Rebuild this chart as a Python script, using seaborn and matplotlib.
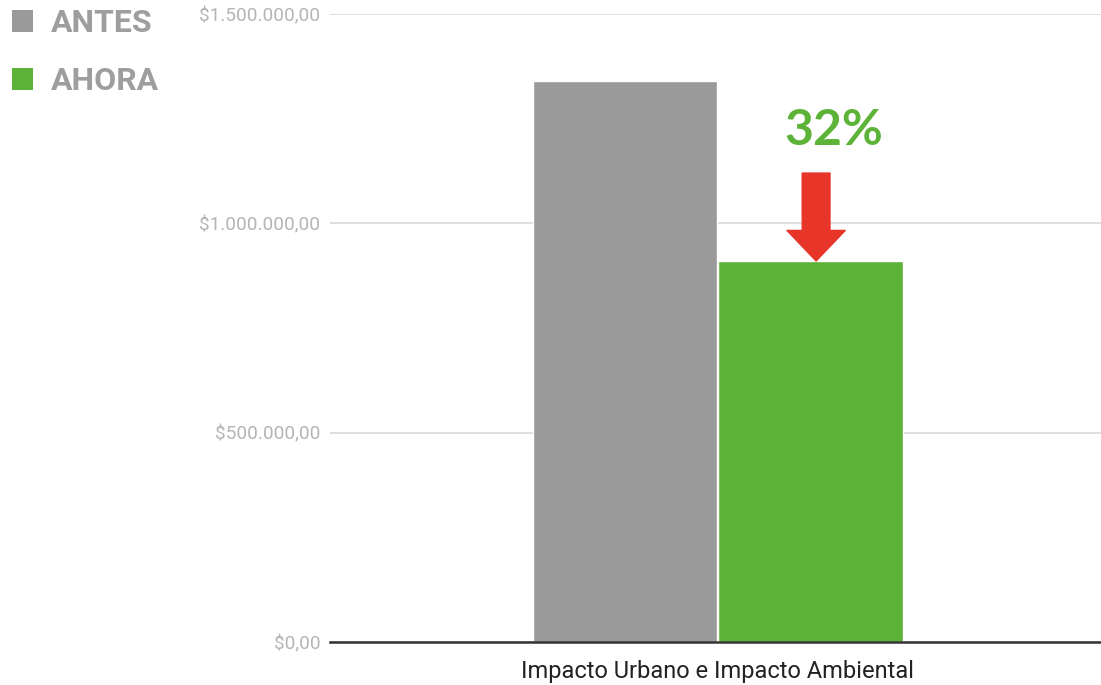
import matplotlib
matplotlib.use("Agg")
import matplotlib.pyplot as plt
import matplotlib.ticker as mticker
from matplotlib.patches import Patch
import pandas as pd
import seaborn as sns

categories = ["Impacto Urbano e Impacto Ambiental"]
periods = ["ANTES", "AHORA"]
values = [1340000, 910000]
reduction_label = "32%"
y_ticks = [0, 500000, 1000000, 1500000]

GRAY = "#9a9a9a"
GREEN = "#5db337"
RED = "#e8352a"


def money(v, _pos=None):
    s = f"{v:,.2f}"
    s = s.replace(",", "X").replace(".", ",").replace("X", ".")
    return "$" + s


df = pd.DataFrame({
    "categoria": categories * len(periods),
    "periodo": periods,
    "valor": values,
})

sns.set_theme(style="white")
plt.rcParams["font.family"] = ["Roboto", "DejaVu Sans"]

fig = plt.figure(figsize=(11.01, 6.85), dpi=100)
ax = fig.add_axes([0.2997, 0.0628, 0.7003, 0.9168])

sns.barplot(
    data=df, x="categoria", y="valor", hue="periodo",
    palette=[GRAY, GREEN], width=0.482, gap=0.006,
    saturation=1, legend=False, ax=ax,
)

ax.set_xlim(-0.503, 0.497)
ax.set_ylim(0, 1500000)
ax.set_yticks(y_ticks)
ax.yaxis.set_major_formatter(mticker.FuncFormatter(money))
ax.tick_params(axis="y", length=0, pad=7, labelsize=13.7, labelcolor="#b5b5b5")
ax.tick_params(axis="x", length=0, pad=13, labelsize=17, labelcolor="#222222")
ax.set_xlabel("")
ax.set_ylabel("")
ax.grid(axis="y", color="#d9d9d9", linewidth=1.2)
ax.set_axisbelow(True)
for side in ["top", "right", "left"]:
    ax.spines[side].set_visible(False)
ax.spines["bottom"].set_color("#333333")
ax.spines["bottom"].set_linewidth(1.8)

# reduction arrow + label over the AHORA bar
green_bar = ax.patches[1]
gx = green_bar.get_x() + green_bar.get_width() / 2
ax.annotate(
    "", xy=(gx + 0.007, values[1]), xytext=(gx + 0.007, 1120000),
    arrowprops=dict(
        arrowstyle="simple,head_length=22,head_width=42,tail_width=20",
        mutation_scale=1, color=RED, shrinkA=0, shrinkB=0,
    ),
)
ax.text(gx + 0.03, 1222000, reduction_label, ha="center", va="center",
        fontsize=36, fontweight="bold", color=GREEN, family=["Lato", "DejaVu Sans"])

handles = [Patch(facecolor=GRAY, edgecolor="none"), Patch(facecolor=GREEN, edgecolor="none")]
leg = fig.legend(
    handles, periods, loc="upper left", bbox_to_anchor=(0.004, 1.0),
    frameon=False, handlelength=0.66, handleheight=0.66, handletextpad=0.55,
    labelspacing=0.88, borderaxespad=0.0, borderpad=0.25, fontsize=23,
)
for t in leg.get_texts():
    t.set_color("#9e9e9e")
    t.set_fontweight("bold")

fig.savefig("out.png", dpi=100)
